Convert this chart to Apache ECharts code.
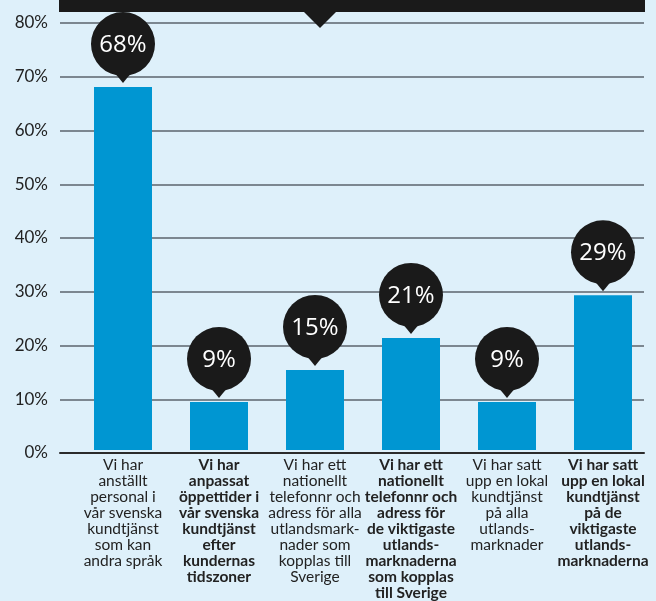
<!DOCTYPE html>
<html>
<head>
<meta charset="utf-8">
<script src="https://cdn.jsdelivr.net/npm/echarts@6/dist/echarts.min.js"></script>
<style>
  html, body { margin: 0; padding: 0; background: #def0fa; }
  #chart { width: 656px; height: 601px; }
</style>
</head>
<body>
<div id="chart"></div>
<script>
// Survey answers (share of companies)
const categories = [
  'Vi har\nanställt\npersonal i\nvår svenska\nkundtjänst\nsom kan\nandra språk',
  'Vi har\nanpassat\nöppettider i\nvår svenska\nkundtjänst\nefter\nkundernas\ntidszoner',
  'Vi har ett\nnationellt\ntelefonnr och\nadress för alla\nutlandsmark-\nnader som\nkopplas till\nSverige',
  'Vi har ett\nnationellt\ntelefonnr och\nadress för\nde viktigaste\nutlands-\nmarknaderna\nsom kopplas\ntill Sverige',
  'Vi har satt\nupp en lokal\nkundtjänst\npå alla\nutlands-\nmarknader',
  'Vi har satt\nupp en lokal\nkundtjänst\npå de\nviktigaste\nutlands-\nmarknaderna'
];
const boldCategory = [false, true, false, true, false, true];
const values = [68, 9, 15, 21, 9, 29];
const yTicks = [0, 10, 20, 30, 40, 50, 60, 70, 80];

const chart = echarts.init(document.getElementById('chart'), null, { renderer: 'canvas' });

const FONT = 'Lato, "Open Sans", sans-serif';
const INK = '#222222';
const DARK = '#1a1a1a';

chart.setOption({
  backgroundColor: '#def0fa',
  animation: false,
  grid: [
    { left: 60, right: 12, top: 23, bottom: 148 },
    { left: 75, right: 5, top: 23, bottom: 148 }
  ],
  xAxis: [
    {
      gridIndex: 0, type: 'category', data: categories,
      axisLine: { show: true, lineStyle: { color: '#2b2b2b', width: 2 } },
      axisTick: { show: false }, axisLabel: { show: false }, splitLine: { show: false }
    },
    {
      gridIndex: 1, type: 'category', data: categories,
      axisLine: { show: false }, axisTick: { show: false },
      axisLabel: {
        interval: 0, margin: 7,
        formatter: function (v, i) {
          const tag = boldCategory[i] ? 'b' : 'n';
          return v.split('\n').map(l => '{' + tag + '|' + l + '}').join('\n');
        },
        rich: {
          n: { fontFamily: FONT, fontSize: 15.5, color: INK, lineHeight: 16, fontWeight: 'normal', align: 'center' },
          b: { fontFamily: FONT, fontSize: 15.5, color: INK, lineHeight: 16, fontWeight: 'bold', align: 'center' }
        }
      }
    }
  ],
  yAxis: [
    {
      gridIndex: 0, type: 'value', min: yTicks[0], max: yTicks[yTicks.length - 1], interval: 10,
      axisLine: { show: false }, axisTick: { show: false },
      axisLabel: { formatter: '{value}%', fontFamily: FONT, fontSize: 17, color: INK, margin: 12 },
      splitLine: { show: true, lineStyle: { color: '#5b646c', width: 1.5 } }
    },
    {
      gridIndex: 1, type: 'value', min: yTicks[0], max: yTicks[yTicks.length - 1], interval: 10,
      show: false
    }
  ],
  series: [
    {
      type: 'bar', xAxisIndex: 1, yAxisIndex: 1, data: values,
      barWidth: 58, itemStyle: { color: '#0096d2' }, z: 2
    },
    {
      // speech-bubble value labels above each bar
      type: 'custom', xAxisIndex: 1, yAxisIndex: 1, z: 5,
      data: values.map((v, i) => [i, v]),
      renderItem: function (params, api) {
        const p = api.coord([api.value(0), api.value(1)]);
        const cx = p[0], cy = p[1] - 43, r = 32;
        return {
          type: 'group',
          children: [
            { type: 'circle', shape: { cx: cx, cy: cy, r: r }, style: { fill: DARK } },
            { type: 'polygon', shape: { points: [[cx - 9, cy + r - 4], [cx + 9, cy + r - 4], [cx, p[1] - 4]] }, style: { fill: DARK } },
            {
              type: 'text',
              style: {
                x: cx, y: cy + 1, text: api.value(1) + '%',
                fill: '#ffffff', font: '24px "Open Sans", sans-serif',
                align: 'center', verticalAlign: 'middle'
              }
            }
          ]
        };
      }
    }
  ],
  graphic: [
    { type: 'rect', shape: { x: 59, y: 0, width: 586, height: 12 }, style: { fill: DARK }, z: 10 },
    { type: 'polygon', shape: { points: [[303, 11], [337, 11], [320, 28]] }, style: { fill: DARK }, z: 10 }
  ]
});
</script>
</body>
</html>
